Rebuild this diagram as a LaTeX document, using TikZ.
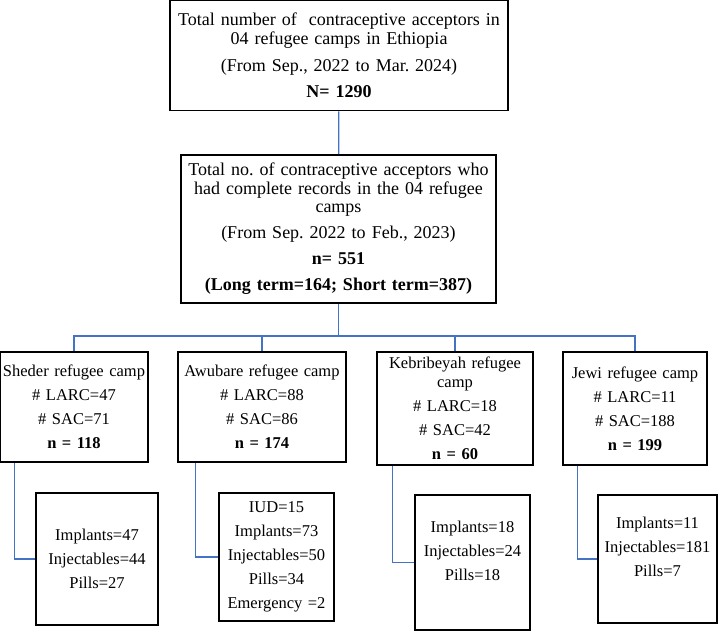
\documentclass[tikz,border=0pt]{standalone}
\usepackage{fontspec}
\setmainfont{Liberation Serif}
\usepackage{xcolor}
\definecolor{linkblue}{RGB}{68,114,196}
\frenchspacing
\lineskiplimit=-10pt

\tikzset{
  box/.style={draw=black, line width=1.6pt, align=center, inner xsep=1pt, inner ysep=0pt,
    font=\fontsize{16.5}{18.5}\selectfont},
  bigbox/.style={box, font=\fontsize{18}{18.5}\selectfont},
  link/.style={linkblue, line width=1.2pt}
}

\begin{document}
\begin{tikzpicture}[x=1pt, y=-1pt]
        \useasboundingbox (0,0) rectangle (720,631);

        % top of the chart
        \node[bigbox, text width=336, minimum height=110] (total) at (339,55.5)
          {Total number of\ \ contraceptive acceptors in\\ 04 refugee camps in Ethiopia\\[8.5pt]
           (From Sep., 2022 to Mar. 2024)\\[7.5pt] \textbf{N= 1290}};
        \node[bigbox, text width=313, minimum height=148] (records) at (338.5,229)
          {Total no. of contraceptive acceptors who\\ had complete records in the 04 refugee\\ camps\\[7.5pt]
           (From Sep. 2022 to Feb., 2023)\\[7.5pt] \textbf{n= 551}\\[7.5pt]
           \textbf{(Long term=164; Short term=387)}};

        % camps
        \node[box, text width=146, minimum height=110] (sheder) at (74,407)
          {Sheder refugee camp\\[5.5pt] \# LARC=47\\[5.5pt] \# SAC=71\\[5.5pt] \textbf{n = 118}};
        \node[box, text width=166, minimum height=110] (awubare) at (262,407)
          {Awubare refugee camp\\[5.5pt] \# LARC=88\\[5.5pt] \# SAC=86\\[5.5pt] \textbf{n = 174}};
        \node[box, text width=154, minimum height=113] (kebribeyah) at (455,408.5)
          {Kebribeyah refugee\\ camp\\[5.5pt] \# LARC=18\\[5.5pt] \# SAC=42\\[5.5pt] \textbf{n = 60}};
        \node[box, text width=142, minimum height=113] (jewi) at (635,408.5)
          {Jewi refugee camp\\[5.5pt] \# LARC=11\\[5.5pt] \# SAC=188\\[5.5pt] \textbf{n = 199}};

        % methods per camp
        \node[box, text width=120, minimum height=132] (shedersub) at (97,559)
          {Implants=47\\[5.5pt] Injectables=44\\[5.5pt] Pills=27};
        \node[box, text width=113, minimum height=128] (awubaresub) at (276.5,557)
          {IUD=15\\[5.5pt] Implants=73\\[5.5pt] Injectables=50\\[5.5pt] Pills=34\\[5.5pt] Emergency =2};
        \node[box, text width=113, minimum height=135] (kebribeyahsub) at (472.5,562.5)
          {Implants=18\\[5.5pt] Injectables=24\\[5.5pt] Pills=18\\[5.5pt] \mbox{}};
        \node[box, text width=117, minimum height=128] (jewisub) at (657.5,559)
          {Implants=11\\[5.5pt] Injectables=181\\[5.5pt] Pills=7\\[5.5pt] \mbox{}};

        % connectors
        \coordinate (split) at (338.5,336);
        \draw[link] (total) -- (records);
        \draw[link] (records) -- (split);
        \draw[link] (split) -| (sheder);
        \draw[link] (split) -| (awubare);
        \draw[link] (split) -| (kebribeyah);
        \draw[link] (split) -| (jewi);

        \draw[link] (sheder.south west) ++(15,0) |- (shedersub.west);
        \draw[link] (awubare.south west) ++(18,0) |- (awubaresub.west);
        \draw[link] (kebribeyah.south west) ++(16,0) |- (kebribeyahsub.west);
        \draw[link] (jewi.south west) ++(15,0) |- (jewisub.west);

    \end{tikzpicture}
\end{document}
